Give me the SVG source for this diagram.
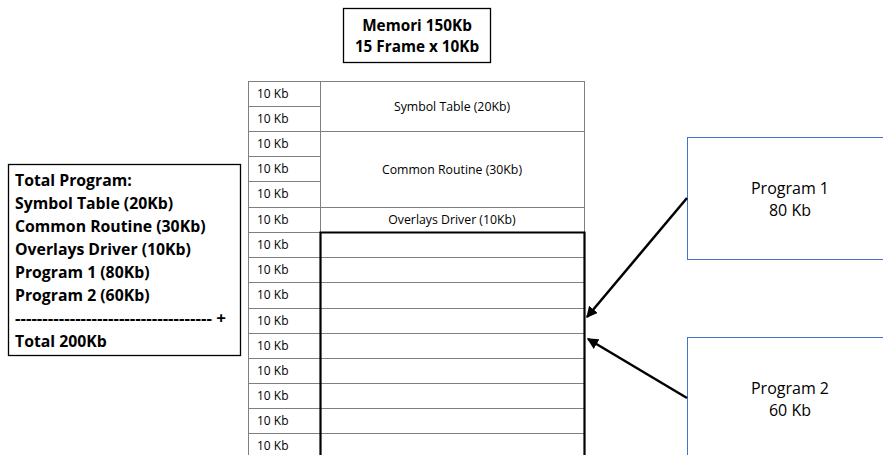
<svg xmlns="http://www.w3.org/2000/svg" width="883" height="455" viewBox="0 0 883 455">
<style>
  .box { fill: #fff; stroke: #000; stroke-width: 1.3; }
  .pbox { fill: #fff; stroke: #4472c4; stroke-width: 1; }
  .bold { font-family: "Open Sans", "Liberation Sans", sans-serif; font-weight: bold; fill: #000; }
  .cell { font-family: "Open Sans", "Liberation Sans", sans-serif; font-size: 12px; fill: #000; }
  .lbl { font-family: "Open Sans", "Liberation Sans", sans-serif; font-size: 12.3px; fill: #000; text-anchor: middle; }
  .prog { font-family: "Open Sans", "Liberation Sans", sans-serif; font-size: 16px; fill: #000; text-anchor: middle; }
  .grid { stroke: #7f7f7f; stroke-width: 1; fill: none; }
  .thick { stroke: #000; stroke-width: 2.2; fill: none; }
  .arrow { stroke: #000; stroke-width: 2.5; fill: none; marker-end: url(#ah); }
</style>
<defs>
  <marker id="ah" markerWidth="4.5" markerHeight="4.5" refX="4" refY="2.25" orient="auto" markerUnits="strokeWidth">
    <path d="M0,0 L4.5,2.25 L0,4.5 Z" fill="#000"/>
  </marker>
</defs>
<rect width="883" height="455" fill="#fff"/>

<g id="title">
  <rect class="box" x="343.5" y="8.5" width="147" height="54"/>
  <text class="bold" font-size="15.3" x="417" y="31" text-anchor="middle">Memori 150Kb</text>
  <text class="bold" font-size="15.3" x="417" y="52" text-anchor="middle">15 Frame x 10Kb</text>
</g>

<g id="total">
  <rect class="box" x="8.5" y="164.5" width="232" height="191"/>
  <g class="bold" font-size="15.8">
    <text x="15" y="186">Total Program:</text>
    <text x="15" y="209">Symbol Table (20Kb)</text>
    <text x="15" y="232">Common Routine (30Kb)</text>
    <text x="15" y="255">Overlays Driver (10Kb)</text>
    <text x="15" y="278">Program 1 (80Kb)</text>
    <text x="15" y="301">Program 2 (60Kb)</text>
    <text x="15" y="324" textLength="211" lengthAdjust="spacingAndGlyphs">------------------------------------ +</text>
    <text x="15" y="347">Total 200Kb</text>
  </g>
</g>

<g id="memory">
  <rect class="grid" x="248.5" y="81.5" width="336" height="380" stroke="#404040"/>
  <line class="grid" x1="320.5" y1="81" x2="320.5" y2="232"/>
  <g class="grid">
    <line x1="248" y1="106.5" x2="320" y2="106.5"/>
    <line x1="248" y1="131.5" x2="585" y2="131.5"/>
    <line x1="248" y1="156.5" x2="320" y2="156.5"/>
    <line x1="248" y1="181.5" x2="320" y2="181.5"/>
    <line x1="248" y1="207.5" x2="585" y2="207.5"/>
    <line x1="248" y1="257.5" x2="585" y2="257.5"/>
    <line x1="248" y1="282.5" x2="585" y2="282.5"/>
    <line x1="248" y1="308.5" x2="585" y2="308.5"/>
    <line x1="248" y1="333.5" x2="585" y2="333.5"/>
    <line x1="248" y1="358.5" x2="585" y2="358.5"/>
    <line x1="248" y1="383.5" x2="585" y2="383.5"/>
    <line x1="248" y1="408.5" x2="585" y2="408.5"/>
    <line x1="248" y1="433.5" x2="585" y2="433.5"/>
  </g>
  <line x1="248" y1="232.5" x2="320" y2="232.5" class="grid"/>
  <path class="thick" d="M320.5,460 V232.5 H584.5 V460"/>
  <g class="cell">
    <text x="257" y="98">10 Kb</text>
    <text x="257" y="123">10 Kb</text>
    <text x="257" y="148">10 Kb</text>
    <text x="257" y="173">10 Kb</text>
    <text x="257" y="198">10 Kb</text>
    <text x="257" y="224">10 Kb</text>
    <text x="257" y="249">10 Kb</text>
    <text x="257" y="274">10 Kb</text>
    <text x="257" y="299">10 Kb</text>
    <text x="257" y="325">10 Kb</text>
    <text x="257" y="350">10 Kb</text>
    <text x="257" y="375">10 Kb</text>
    <text x="257" y="400">10 Kb</text>
    <text x="257" y="425">10 Kb</text>
    <text x="257" y="450">10 Kb</text>
  </g>
  <text class="lbl" x="452" y="111">Symbol Table (20Kb)</text>
  <text class="lbl" x="452" y="174">Common Routine (30Kb)</text>
  <text class="lbl" x="452" y="224">Overlays Driver (10Kb)</text>
</g>

<g id="program1">
  <rect class="pbox" x="687.5" y="137.5" width="210" height="122"/>
  <text class="prog" x="790" y="194">Program 1</text>
  <text class="prog" x="790" y="216">80 Kb</text>
</g>

<g id="program2">
  <rect class="pbox" x="687.5" y="337.5" width="210" height="130"/>
  <text class="prog" x="790" y="394">Program 2</text>
  <text class="prog" x="790" y="416">60 Kb</text>
</g>

<g id="connectors">
  <line class="arrow" x1="687" y1="198" x2="587" y2="317"/>
  <line class="arrow" x1="687" y1="398" x2="588" y2="339"/>
</g>
</svg>
